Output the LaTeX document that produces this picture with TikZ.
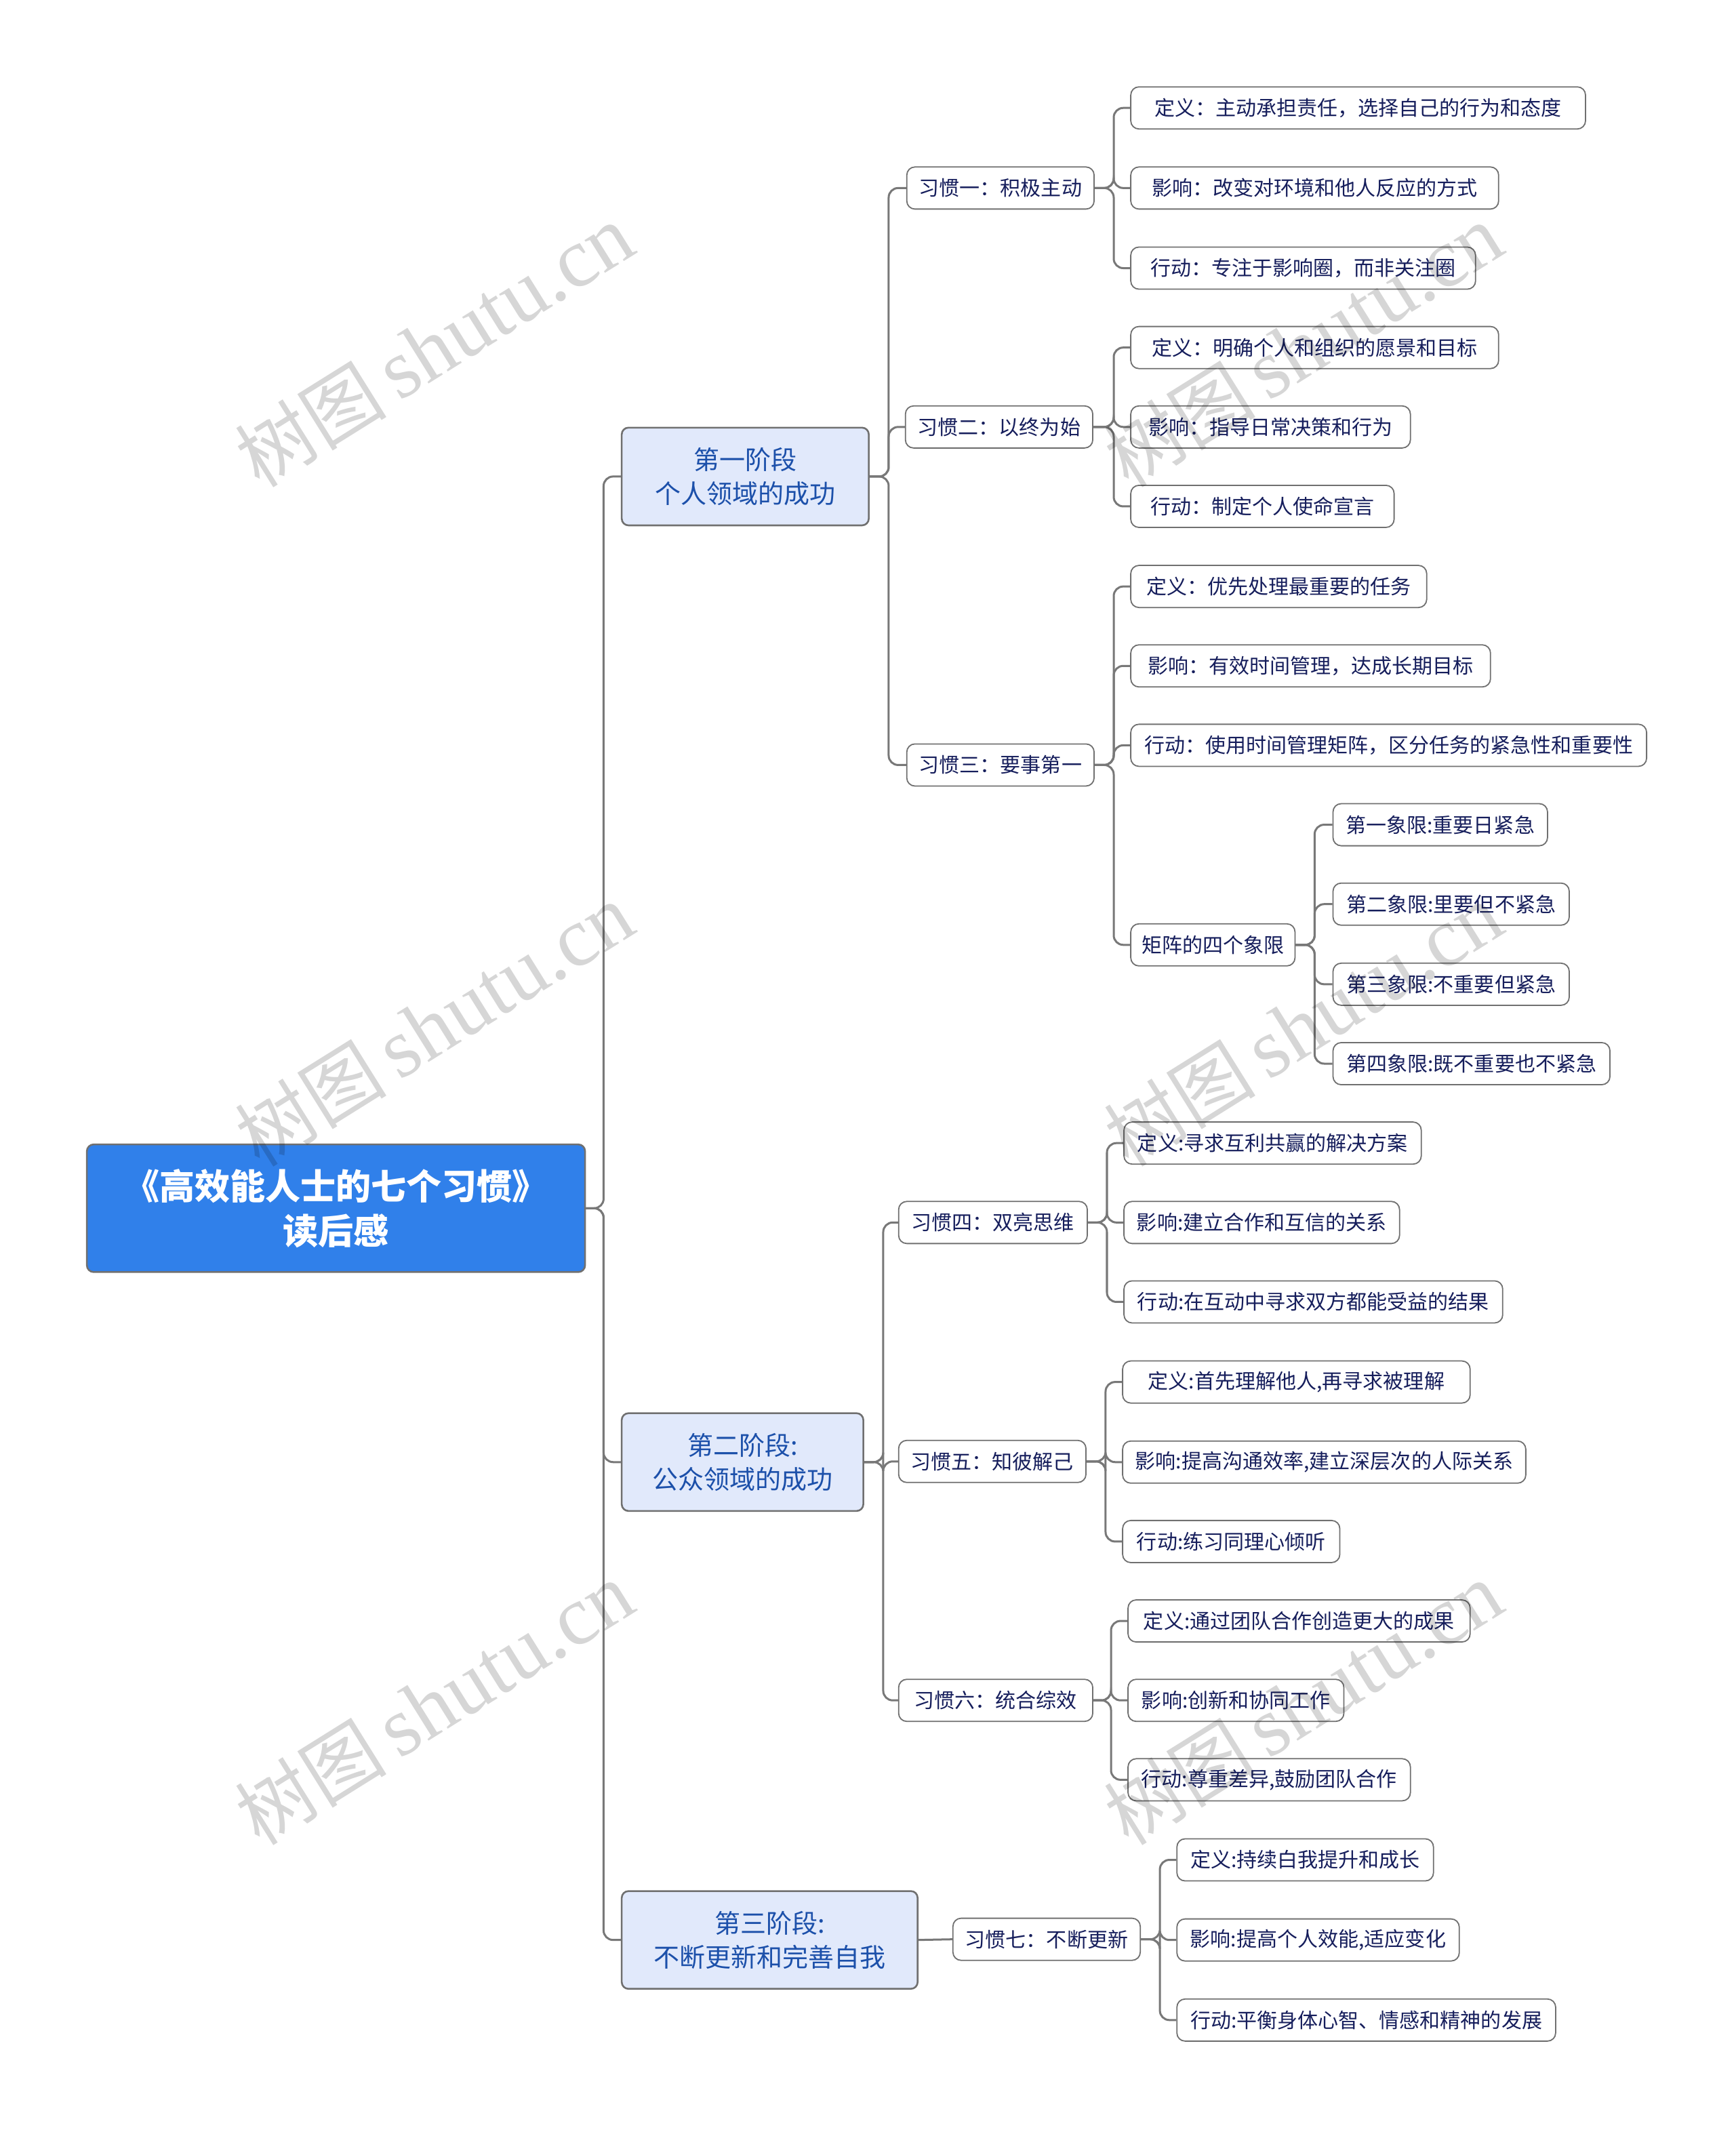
\documentclass[tikz,border=0pt]{standalone}
\usepackage{fontspec}
\newfontfamily\cjk{Noto Sans CJK SC}
\newfontfamily\wmserif{Liberation Serif}
\definecolor{rootblue}{RGB}{48,128,234}
\definecolor{stagefill}{RGB}{225,233,251}
\definecolor{stagetext}{RGB}{28,80,170}
\definecolor{leaftext}{RGB}{22,30,92}
\definecolor{bordergray}{RGB}{112,112,112}
\definecolor{linegray}{RGB}{120,120,120}
\tikzset{
  rootbox/.style={draw=bordergray, line width=1.3pt, fill=rootblue, rounded corners=5pt,
    text=white, font=\cjk\fontsize{26}{33}\selectfont\bfseries, align=center,
    minimum height=94pt, inner sep=0pt},
  stagebox/.style={draw=bordergray, line width=1.3pt, fill=stagefill, rounded corners=5pt,
    text=stagetext, font=\cjk\fontsize{19}{25}\selectfont, align=center,
    minimum height=72pt, inner sep=0pt},
  leafbox/.style={draw=bordergray, line width=0.9pt, fill=white, rounded corners=6pt,
    text=leaftext, font=\cjk\fontsize{15}{18}\selectfont, align=center,
    minimum height=31pt, inner sep=0pt},
  conn/.style={draw=linegray, line width=1.5pt, rounded corners=7pt},
  wm/.style={text=black, text opacity=0.16, rotate=32, inner sep=0pt}
}
\begin{document}
\begin{tikzpicture}[x=1pt,y=-1pt]
\useasboundingbox (0,0) rectangle (1278.4,1569);
% root and stages
\node[rootbox, minimum width=367pt] (root) at (247.5,890) {《高效能人士的七个习惯》\\读后感};
\node[stagebox, minimum width=182pt] (s1) at (549,351) {第一阶段\\个人领域的成功};
\node[stagebox, minimum width=178pt] (s2) at (547,1077) {第二阶段:\\公众领域的成功};
\node[stagebox, minimum width=218pt] (s3) at (567,1429) {第三阶段:\\不断更新和完善自我};
% habits
\node[leafbox, minimum width=138pt] (h1) at (737,138.5) {习惯一：积极主动};
\node[leafbox, minimum width=138pt] (h2) at (736,314.5) {习惯二：以终为始};
\node[leafbox, minimum width=138pt] (h3) at (737,563.5) {习惯三：要事第一};
\node[leafbox, minimum width=139pt] (h4) at (731.5,900.5) {习惯四：双亮思维};
\node[leafbox, minimum width=138pt] (h5) at (731,1076.5) {习惯五：知彼解己};
\node[leafbox, minimum width=143pt] (h6) at (733.5,1252.5) {习惯六：统合综效};
\node[leafbox, minimum width=138pt] (h7) at (771,1428.5) {习惯七：不断更新};
% habit 1
\node[leafbox, minimum width=335pt] (a1) at (1000.5,79.5) {定义：主动承担责任，选择自己的行为和态度};
\node[leafbox, minimum width=271pt] (a2) at (968.5,138.5) {影响：改变对环境和他人反应的方式};
\node[leafbox, minimum width=254pt] (a3) at (960,197.5) {行动：专注于影响圈，而非关注圈};
% habit 2
\node[leafbox, minimum width=271pt] (b1) at (968.5,256) {定义：明确个人和组织的愿景和目标};
\node[leafbox, minimum width=206pt] (b2) at (936,314.5) {影响：指导日常决策和行为};
\node[leafbox, minimum width=194pt] (b3) at (930,373) {行动：制定个人使命宣言};
% habit 3
\node[leafbox, minimum width=218pt] (c1) at (942,432) {定义：优先处理最重要的任务};
\node[leafbox, minimum width=265pt] (c2) at (965.5,490.5) {影响：有效时间管理，达成长期目标};
\node[leafbox, minimum width=380pt] (c3) at (1023,549) {行动：使用时间管理矩阵，区分任务的紧急性和重要性};
\node[leafbox, minimum width=121pt] (c4) at (893.5,696) {矩阵的四个象限};
\node[leafbox, minimum width=158pt] (q1) at (1061,607.5) {第一象限:重要日紧急};
\node[leafbox, minimum width=174pt] (q2) at (1069,666) {第二象限:里要但不紧急};
\node[leafbox, minimum width=174pt] (q3) at (1069,725) {第三象限:不重要但紧急};
\node[leafbox, minimum width=204pt] (q4) at (1084,783.5) {第四象限:既不重要也不紧急};
% habit 4
\node[leafbox, minimum width=219pt] (d1) at (937.5,842) {定义:寻求互利共赢的解决方案};
\node[leafbox, minimum width=203pt] (d2) at (929.5,900.5) {影响:建立合作和互信的关系};
\node[leafbox, minimum width=279pt] (d3) at (967.5,959) {行动:在互动中寻求双方都能受益的结果};
% habit 5
\node[leafbox, minimum width=256pt] (e1) at (955,1018) {定义:首先理解他人,再寻求被理解};
\node[leafbox, minimum width=297pt] (e2) at (975.5,1077) {影响:提高沟通效率,建立深层次的人际关系};
\node[leafbox, minimum width=160pt] (e3) at (907,1135.5) {行动:练习同理心倾听};
% habit 6
\node[leafbox, minimum width=252pt] (f1) at (957,1194) {定义:通过团队合作创造更大的成果};
\node[leafbox, minimum width=159pt] (f2) at (910.5,1252.5) {影响:创新和协同工作};
\node[leafbox, minimum width=208pt] (f3) at (935,1311) {行动:尊重差异,鼓励团队合作};
% habit 7
\node[leafbox, minimum width=189pt] (g1) at (961.5,1370) {定义:持续白我提升和成长};
\node[leafbox, minimum width=208pt] (g2) at (971,1429) {影响:提高个人效能,适应变化};
\node[leafbox, minimum width=279pt] (g3) at (1006.5,1488) {行动:平衡身体心智、情感和精神的发展};
% connectors
\foreach \c in {s1,s2,s3} \draw[conn] (root.east) -- ++(13,0) |- (\c.west);
\foreach \c in {h1,h2,h3} \draw[conn] (s1.east) -- ++(14,0) |- (\c.west);
\foreach \c in {h4,h5,h6} \draw[conn] (s2.east) -- ++(14,0) |- (\c.west);
\draw[conn] (s3.east) -- (h7.west);
\foreach \c in {a1,a2,a3} \draw[conn] (h1.east) -- ++(14,0) |- (\c.west);
\foreach \c in {b1,b2,b3} \draw[conn] (h2.east) -- ++(15,0) |- (\c.west);
\foreach \c in {c1,c2,c3,c4} \draw[conn] (h3.east) -- ++(14,0) |- (\c.west);
\foreach \c in {q1,q2,q3,q4} \draw[conn] (c4.east) -- ++(14,0) |- (\c.west);
\foreach \c in {d1,d2,d3} \draw[conn] (h4.east) -- ++(14,0) |- (\c.west);
\foreach \c in {e1,e2,e3} \draw[conn] (h5.east) -- ++(14,0) |- (\c.west);
\foreach \c in {f1,f2,f3} \draw[conn] (h6.east) -- ++(13,0) |- (\c.west);
\foreach \c in {g1,g2,g3} \draw[conn] (h7.east) -- ++(14,0) |- (\c.west);
% watermarks
\foreach \wx/\wy [count=\i] in {320/255,320/755,320/1255,960/255,960/755,960/1255}
  \node[wm] (wm\i) at (\wx,\wy) {\cjk\fontsize{56}{60}\selectfont 树图\,\wmserif\fontsize{62}{60}\selectfont shutu.cn};
\end{tikzpicture}
\end{document}
